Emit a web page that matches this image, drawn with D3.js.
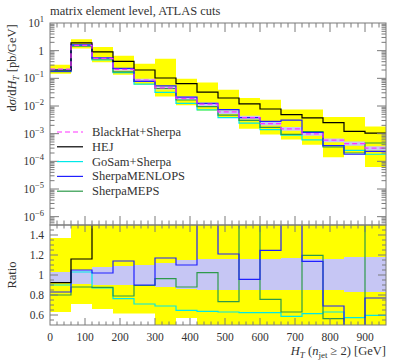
<!DOCTYPE html>
<html><head><meta charset="utf-8">
<script src="https://cdn.jsdelivr.net/npm/d3@7"></script>
<style>body{margin:0;background:#fff}svg{display:block}text{font-family:'Liberation Serif','DejaVu Serif',serif;fill:#333}</style>
</head><body><svg id="c" width="399" height="360"></svg>
<script>
// ---- data ----
const binEdges = [0,60,120,180,240,300,360,420,480,540,600,660,720,780,840,900,960];
const xTickLabels = [0,100,200,300,400,500,600,700,800,900];
const yTickExp = [1,0,-1,-2,-3,-4,-5,-6];
const ratioTickLabels = [0.6,0.8,1,1.2,1.4];

// top panel: dsigma/dHT [pb/GeV]
const blackHat = [0.215,1.55,0.53,0.21,0.087,0.045,0.019,0.0116,0.0061,0.0038,0.0023,0.0015,0.00099,0.00058,0.00044,0.0003];
const hej      = [0.20,1.9,0.9,0.41,0.2,0.103,0.064,0.032,0.0195,0.0119,0.0078,0.0049,0.0037,0.0025,0.00122,0.00105];
const hejLo    = [0.145,1.21,0.38,0.136,0.059,0.022,0.0106,0.0068,0.0037,0.0015,0.00093,0.00062,0.0004,0.00014,0.0002,0.000063];
const hejHi    = [0.31,2.56,1.36,0.66,0.34,0.51,0.097,0.07,0.039,0.0195,0.017,0.0074,0.0074,0.004,0.004,0.0018];
const goSam    = [0.20,1.6,0.46,0.16,0.062,0.031,0.0125,0.0073,0.0038,0.0024,0.0014,0.00089,0.0006,0.00037,0.00025,0.00018];
const menlops  = [0.18,1.62,0.55,0.23,0.078,0.053,0.021,0.0125,0.0074,0.0038,0.0028,0.0031,0.0011,0.00037,0.00018,0.00023];
const meps     = [0.175,1.45,0.50,0.17,0.078,0.043,0.0165,0.0095,0.0047,0.0030,0.0017,0.00095,0.0012,0.00033,0.0002,0.00046];

// ratio panel (to BlackHat+Sherpa)
const rBandLo  = [0.92,0.91,0.90,0.90,0.89,0.88,0.86,0.85,0.85,0.85,0.85,0.85,0.85,0.85,0.83,0.83];
const rBandHi  = [1.03,1.05,1.08,1.09,1.10,1.12,1.15,1.16,1.16,1.16,1.16,1.17,1.16,1.16,1.18,1.18];
const rHejLo   = [0.63,0.71,0.66,0.615,0.615,0.45,0.57,0.45,0.45,0.45,0.45,0.45,0.45,0.45,0.45,0.45];
const rHejHi   = [1.37,1.6,1.6,1.6,1.6,1.6,1.6,1.6,1.6,1.6,1.6,1.6,1.6,1.6,1.6,1.6];
const rHej     = [0.923,1.16,1.7,1.7,1.7,1.7,1.7,1.7,1.7,1.7,1.7,1.7,1.7,1.7,1.7,1.7];
const rGoSam   = [0.90,1.03,0.87,0.763,0.71,0.69,0.647,0.637,0.63,0.623,0.623,0.587,0.613,0.63,0.573,0.597];
const rMenlops = [0.83,1.05,1.02,1.14,0.90,1.17,1.10,1.7,1.21,0.957,1.247,1.7,1.137,0.69,0.4,0.77];
const rMeps    = [0.80,0.88,0.877,0.79,0.895,0.963,0.88,1.023,0.733,1.7,0.757,0.63,1.197,0.563,0.45,1.7];

const legendNames = ["BlackHat+Sherpa","HEJ","GoSam+Sherpa","SherpaMENLOPS","SherpaMEPS"];
const colors = {bh:"#ff33ff", hej:"#000000", gosam:"#00e8e8", menlops:"#2020ff", meps:"#2e9a4a", yellow:"#ffff00", lav:"#c6c6f4", frame:"#7a7a7a"};

// ---- layout ----
const svg = d3.select("#c");
const L=50, R=386, T1=23, B1=225, T2=225, B2=325;
const x = d3.scaleLinear().domain([0,960]).range([L,R]);
const y1 = d3.scaleLog().domain([5e-7,10]).range([B1,T1]);
const y2 = d3.scaleLinear().domain([0.5,1.5]).range([B2,T2]);

const defs = svg.append("defs");
defs.append("clipPath").attr("id","cp1").append("rect").attr("x",L).attr("y",T1).attr("width",R-L).attr("height",B1-T1);
defs.append("clipPath").attr("id","cp2").append("rect").attr("x",L).attr("y",T2).attr("width",R-L).attr("height",B2-T2);

function pts(vals){ const p = vals.map((v,i)=>[binEdges[i],v]); p.push([binEdges[vals.length],vals[vals.length-1]]); return p; }
function stepLine(ys){ return d3.line().x(d=>x(d[0])).y(d=>ys(d[1])).curve(d3.curveStepAfter); }
function band(lo,hi,ys){
  const p = lo.map((v,i)=>[binEdges[i],v,hi[i]]); p.push([binEdges[lo.length],lo[lo.length-1],hi[hi.length-1]]);
  return d3.area().x(d=>x(d[0])).y0(d=>ys(d[1])).y1(d=>ys(d[2])).curve(d3.curveStepAfter)(p);
}

// top panel
const g1 = svg.append("g").attr("clip-path","url(#cp1)");
g1.append("path").attr("d",band(hejLo,hejHi,y1)).attr("fill",colors.yellow);
g1.append("path").attr("d",band(blackHat.map((v,i)=>v*rBandLo[i]),blackHat.map((v,i)=>v*rBandHi[i]),y1)).attr("fill",colors.lav);
const series1 = [[goSam,colors.gosam,null],[meps,colors.meps,null],[menlops,colors.menlops,null],[hej,colors.hej,null],[blackHat,colors.bh,"5,3"]];
series1.forEach(([v,c,d])=>g1.append("path").attr("d",stepLine(y1)(pts(v))).attr("fill","none").attr("stroke",c).attr("stroke-width",1.2).attr("stroke-dasharray",d));

// ratio panel
const g2 = svg.append("g").attr("clip-path","url(#cp2)");
g2.append("path").attr("d",band(rHejLo,rHejHi,y2)).attr("fill",colors.yellow);
g2.append("path").attr("d",band(rBandLo,rBandHi,y2)).attr("fill",colors.lav);
const series2 = [[rGoSam,colors.gosam],[rMeps,colors.meps],[rMenlops,colors.menlops],[rHej,colors.hej]];
series2.forEach(([v,c])=>g2.append("path").attr("d",stepLine(y2)(pts(v))).attr("fill","none").attr("stroke",c).attr("stroke-width",1.2));

// frames
[[T1,B1],[T2,B2]].forEach(([t,b])=>svg.append("rect").attr("x",L).attr("y",t).attr("width",R-L).attr("height",b-t).attr("fill","none").attr("stroke",colors.frame).attr("stroke-width",1));

// ticks
const tk = svg.append("g").attr("stroke",colors.frame).attr("stroke-width",1);
function hline(x0,x1,yy){tk.append("line").attr("x1",x0).attr("x2",x1).attr("y1",yy).attr("y2",yy);}
function vline(xx,y0,yB){tk.append("line").attr("x1",xx).attr("x2",xx).attr("y1",y0).attr("y2",yB);}
d3.range(0,961,20).forEach(v=>{
  const major = v%100===0, xx=x(v);
  if(xx<=L+0.1||xx>=R-0.1) return;
  const l1 = major?9:4.5, l2 = major?7:3.5;
  vline(xx,T1,T1+l1); vline(xx,B1,B1-l1);
  vline(xx,T2,T2+l2); vline(xx,B2,B2-l2);
});
yTickExp.forEach(e=>{
  const yy=y1(Math.pow(10,e)); if(yy>T1+0.5){hline(L,L+9,yy);hline(R,R-9,yy);}
  for(let k=2;k<=9;k++){const v=k*Math.pow(10,e-1); const yv=y1(v); if(yv>T1&&yv<B1){hline(L,L+4.5,yv);hline(R,R-4.5,yv);}}
});
d3.range(0.55,1.5,0.05).forEach(v=>{
  const r=Math.round(v*100)/100, yy=y2(r); const major = Math.abs(r*10-Math.round(r*10))<1e-6 && Math.round(r*10)%2===0;
  const l = major?8:4; hline(L,L+l,yy); hline(R,R-l,yy);
});

// tick labels
const fs=11.5;
xTickLabels.forEach(v=>svg.append("text").attr("x",x(v)).attr("y",341).attr("text-anchor","middle").attr("font-size",fs).text(v));
yTickExp.forEach(e=>{
  const t=svg.append("text").attr("x",44).attr("y",y1(Math.pow(10,e))+4).attr("text-anchor","end").attr("font-size",fs);
  if(e===0){t.text("1");}
  else{t.append("tspan").text("10"); t.append("tspan").attr("dy",-5).attr("font-size",8.5).text(e<0?"\u2212"+(-e):String(e));}
});
ratioTickLabels.forEach(v=>svg.append("text").attr("x",44).attr("y",y2(v)+4).attr("text-anchor","end").attr("font-size",fs).text(String(v)));

// title and axis labels
svg.append("text").attr("x",L).attr("y",15).attr("font-size",12.5).text("matrix element level, ATLAS cuts");
const yl = svg.append("text").attr("transform","translate(16,68) rotate(-90)").attr("text-anchor","middle").attr("font-size",12.5);
yl.append("tspan").text("d"); yl.append("tspan").attr("font-style","italic").text("σ"); yl.append("tspan").text("/d");
yl.append("tspan").attr("font-style","italic").text("H"); yl.append("tspan").attr("font-style","italic").attr("font-size",9).attr("dy",3).text("T");
yl.append("tspan").attr("dy",-3).text(" [pb/GeV]");
svg.append("text").attr("transform","translate(16,275) rotate(-90)").attr("text-anchor","middle").attr("font-size",12.5).text("Ratio");
const xl = svg.append("text").attr("x",R).attr("y",355).attr("text-anchor","end").attr("font-size",12.5);
xl.append("tspan").attr("font-style","italic").text("H"); xl.append("tspan").attr("font-style","italic").attr("font-size",9).attr("dy",3).text("T");
xl.append("tspan").attr("dy",-3).text(" (");
xl.append("tspan").attr("font-style","italic").text("n"); xl.append("tspan").attr("font-size",9).attr("dy",3).text("jet");
xl.append("tspan").attr("dy",-3).text(" \u2265 2) [GeV]");

// legend
const legColors=[colors.bh,colors.hej,colors.gosam,colors.menlops,colors.meps];
legendNames.forEach((n,i)=>{
  const yy=132+i*14.8;
  svg.append("line").attr("x1",57).attr("x2",83).attr("y1",yy).attr("y2",yy).attr("stroke",legColors[i]).attr("stroke-width",1.2).attr("stroke-dasharray",i===0?"5,3":null);
  svg.append("text").attr("x",92).attr("y",yy+4).attr("font-size",12.5).text(n);
});
</script></body></html>
